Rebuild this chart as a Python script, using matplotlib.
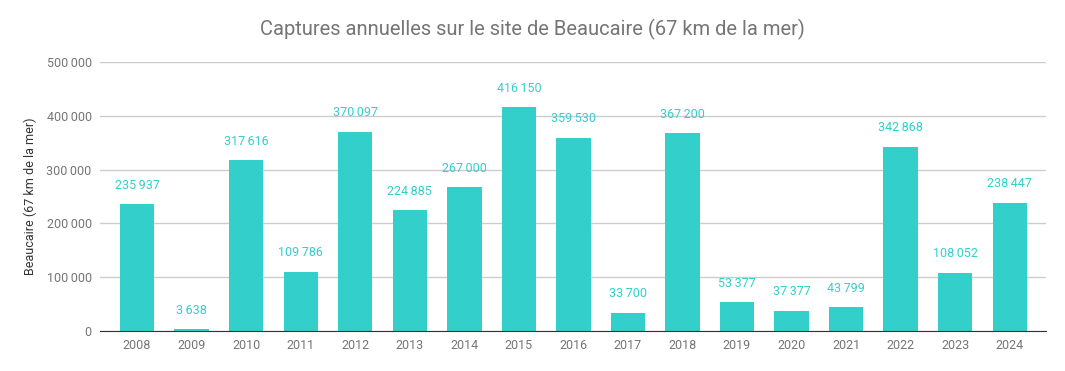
import matplotlib.pyplot as plt

plt.rcParams['font.family'] = ['Roboto', 'DejaVu Sans']

years = ['2008', '2009', '2010', '2011', '2012', '2013', '2014', '2015', '2016',
         '2017', '2018', '2019', '2020', '2021', '2022', '2023', '2024']
captures = [235937, 3638, 317616, 109786, 370097, 224885, 267000, 416150, 359530,
            33700, 367200, 53377, 37377, 43799, 342868, 108052, 238447]
yticks = [0, 100000, 200000, 300000, 400000, 500000]

color = '#33cfcb'
gray = '#757575'


def fmt(v):
    return f'{v:,}'.replace(',', '\u202f')


fig = plt.figure(figsize=(10.65, 3.71), dpi=100)
ax = fig.add_axes([0.0939, 0.1078, 0.888, 0.725])

x = range(len(years))
ax.bar(x, captures, width=0.63, color=color, zorder=2)
for i, v in enumerate(captures):
    ax.annotate(fmt(v), (i, v), xytext=(0, 9), textcoords='offset points',
                ha='center', va='bottom', color=color, fontsize=9)

ax.set_ylim(0, 500000)
ax.set_xlim(-0.68, len(years) - 0.34)
ax.set_yticks(yticks)
ax.set_yticklabels([fmt(t) for t in yticks])
ax.set_xticks(list(x))
ax.set_xticklabels(years)
ax.grid(axis='y', color='#cccccc', linewidth=1, zorder=0)
ax.tick_params(length=0, colors=gray, labelsize=9)
ax.tick_params(axis='y', pad=6)
ax.tick_params(axis='x', pad=6)
for s in ['top', 'right', 'left']:
    ax.spines[s].set_visible(False)
ax.spines['bottom'].set_color('#333333')
ax.spines['bottom'].set_zorder(3)

ax.set_ylabel('Beaucaire (67 km de la mer)', color='#333333', fontsize=9, labelpad=7)
fig.suptitle('Captures annuelles sur le site de Beaucaire (67 km de la mer)',
             y=0.95, color=gray, fontsize=14.5)

fig.savefig('out.png', dpi=100)
